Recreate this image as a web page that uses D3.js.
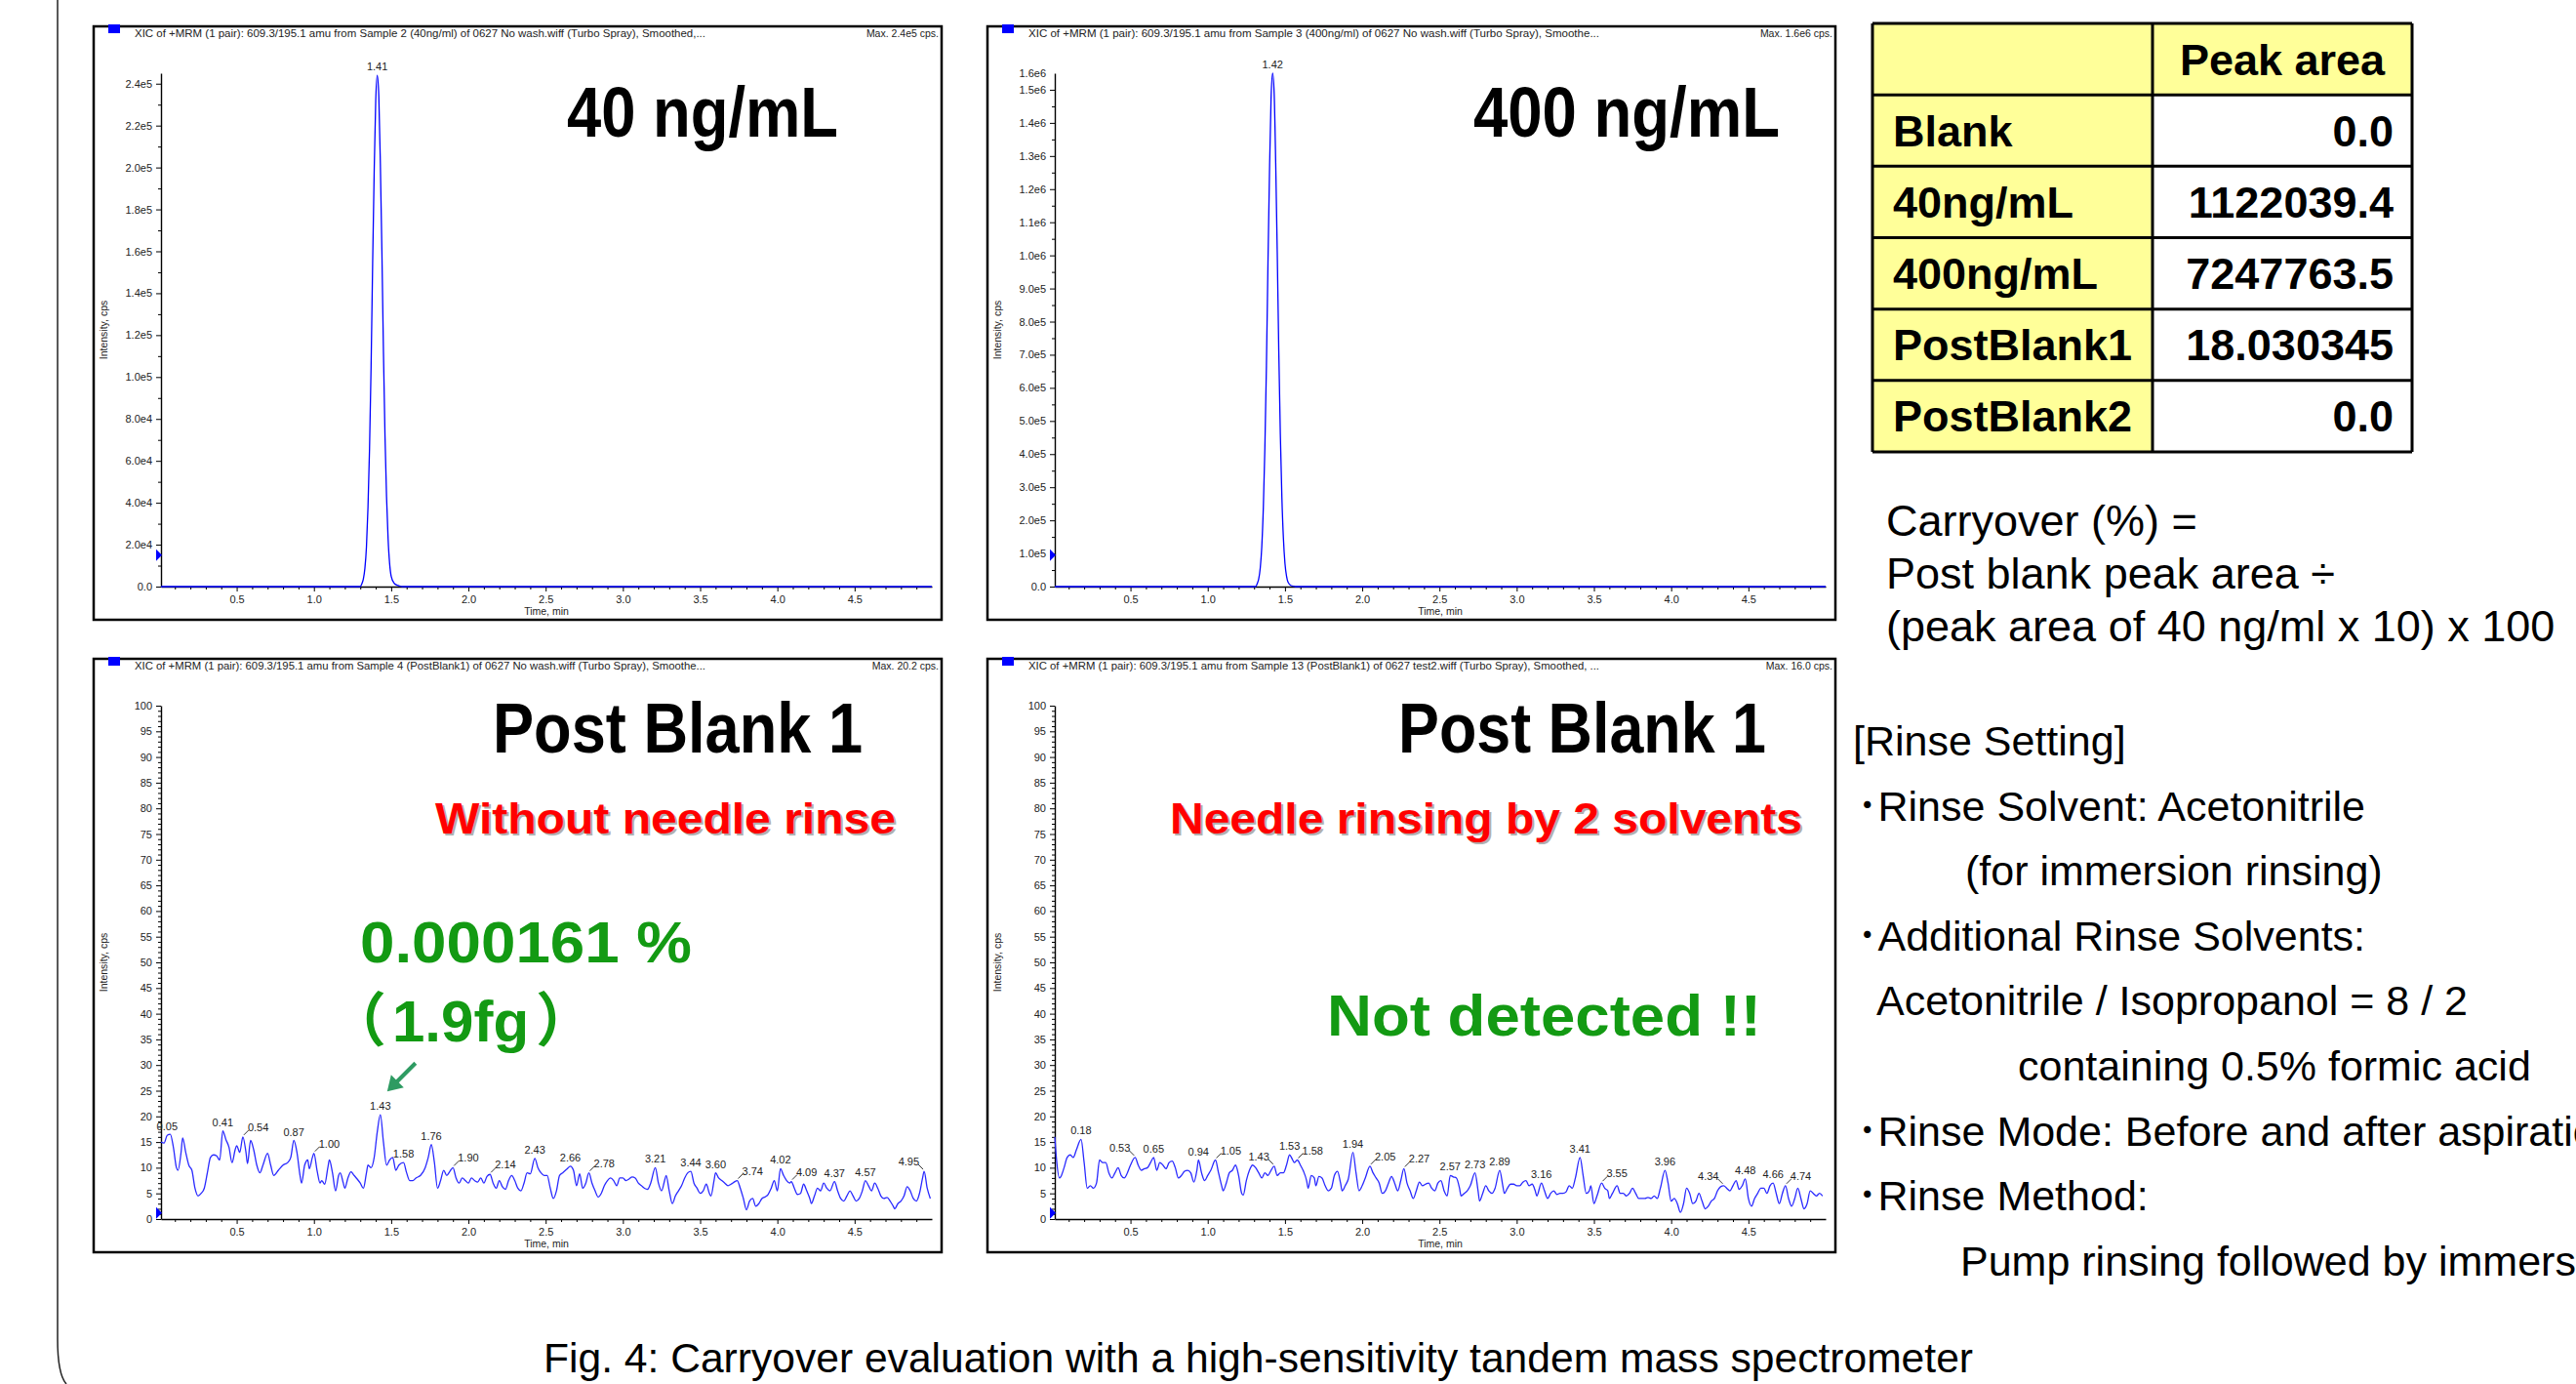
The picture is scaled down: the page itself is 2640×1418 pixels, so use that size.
<!DOCTYPE html>
<html>

<head>
  <meta charset="utf-8">
  <title>Carryover evaluation</title>
  <style>
    body { margin: 0; background: #fff; }
    svg { display: block; font-family: "Liberation Sans", Arial, "Noto Sans CJK JP", sans-serif; }
  </style>
</head>

<body>
  <svg width="2640" height="1418"></svg>
  <script src="https://d3js.org/d3.v7.min.js"></script>
  <script>
    // ---- data ----
    var timeTicks = [0.5, 1.0, 1.5, 2.0, 2.5, 3.0, 3.5, 4.0, 4.5];
    var timeLabels = ["0.5", "1.0", "1.5", "2.0", "2.5", "3.0", "3.5", "4.0", "4.5"];

    var ticks40 = [0, 2e4, 4e4, 6e4, 8e4, 1e5, 1.2e5, 1.4e5, 1.6e5, 1.8e5, 2e5, 2.2e5, 2.4e5];
    var labels40 = ["0.0", "2.0e4", "4.0e4", "6.0e4", "8.0e4", "1.0e5", "1.2e5", "1.4e5", "1.6e5", "1.8e5", "2.0e5", "2.2e5", "2.4e5"];
    var ticks400 = [0, 1e5, 2e5, 3e5, 4e5, 5e5, 6e5, 7e5, 8e5, 9e5, 1e6, 1.1e6, 1.2e6, 1.3e6, 1.4e6, 1.5e6];
    var labels400 = ["0.0", "1.0e5", "2.0e5", "3.0e5", "4.0e5", "5.0e5", "6.0e5", "7.0e5", "8.0e5", "9.0e5", "1.0e6", "1.1e6", "1.2e6", "1.3e6", "1.4e6", "1.5e6"];
    var ticksBlank = [0, 5, 10, 15, 20, 25, 30, 35, 40, 45, 50, 55, 60, 65, 70, 75, 80, 85, 90, 95, 100];
    var labelsBlank = ["0", "5", "10", "15", "20", "25", "30", "35", "40", "45", "50", "55", "60", "65", "70", "75", "80", "85", "90", "95", "100"];

    var headers = [
      "XIC of +MRM (1 pair): 609.3/195.1 amu from Sample 2 (40ng/ml) of 0627 No wash.wiff (Turbo Spray), Smoothed,...",
      "XIC of +MRM (1 pair): 609.3/195.1 amu from Sample 3 (400ng/ml) of 0627 No wash.wiff (Turbo Spray), Smoothe...",
      "XIC of +MRM (1 pair): 609.3/195.1 amu from Sample 4 (PostBlank1) of 0627 No wash.wiff (Turbo Spray), Smoothe...",
      "XIC of +MRM (1 pair): 609.3/195.1 amu from Sample 13 (PostBlank1) of 0627 test2.wiff (Turbo Spray), Smoothed, ..."
    ];
    var maxTexts = ["Max. 2.4e5 cps.", "Max. 1.6e6 cps.", "Max. 20.2 cps.", "Max. 16.0 cps."];

    var peak40Time = [0.01, 1.30, 1.31, 1.32, 1.33, 1.34, 1.35, 1.36, 1.37, 1.38, 1.39, 1.40, 1.41, 1.42, 1.43, 1.44, 1.45, 1.46, 1.47, 1.48, 1.49, 1.50, 1.52, 1.54, 1.56, 1.57, 5.0];
    var peak40Int = [0, 0, 1.3e3, 3.7e3, 8.8e3, 1.9e4, 3.8e4, 6.6e4, 1.05e5, 1.54e5, 1.98e5, 2.32e5, 2.44e5, 2.34e5, 2.02e5, 1.6e5, 1.12e5, 7.2e4, 4.3e4, 2.3e4, 1.1e4, 5e3, 1.5e3, 600, 200, 0, 0];
    var peak400Time = [0.01, 1.31, 1.32, 1.33, 1.34, 1.35, 1.36, 1.37, 1.38, 1.39, 1.40, 1.41, 1.42, 1.43, 1.44, 1.45, 1.46, 1.47, 1.48, 1.49, 1.50, 1.51, 1.52, 1.54, 1.56, 1.57, 5.0];
    var peak400Int = [0, 0, 8.5e3, 2.3e4, 5.6e4, 1.21e5, 2.39e5, 4.19e5, 6.67e5, 9.77e5, 1.256e6, 1.473e6, 1.55e6, 1.49e6, 1.28e6, 1.01e6, 7.1e5, 4.6e5, 2.7e5, 1.45e5, 7.0e4, 3.2e4, 1.3e4, 3e3, 800, 0, 0];

    // post blank 1, without needle rinse  [time, cps]
    var pb1Trace = [[0.01, 15], [0.03, 14.8], [0.05, 16.3], [0.07, 16.5], [0.09, 14], [0.11, 10], [0.12, 9.5], [0.14, 13], [0.15, 15.8], [0.17, 13], [0.19, 10.5], [0.21, 9.5], [0.23, 6], [0.25, 4.5], [0.27, 5], [0.29, 6], [0.31, 9], [0.33, 12], [0.35, 12.5], [0.37, 12.3], [0.39, 11.5], [0.41, 17.2], [0.43, 15.5], [0.45, 14], [0.47, 11], [0.49, 13.5], [0.50, 14.3], [0.52, 13], [0.54, 16], [0.56, 13], [0.57, 10.8], [0.59, 15.3], [0.61, 13.5], [0.63, 10.5], [0.65, 9], [0.67, 10.5], [0.70, 12.8], [0.72, 10.5], [0.74, 8.5], [0.77, 9.5], [0.80, 10.5], [0.83, 11], [0.85, 12], [0.87, 15.3], [0.89, 13], [0.91, 8.5], [0.92, 7], [0.94, 10.5], [0.96, 11.5], [0.97, 9.8], [0.99, 12], [1.00, 12.8], [1.02, 9.5], [1.04, 7], [1.05, 7.5], [1.07, 6.8], [1.09, 10], [1.10, 11.5], [1.12, 9], [1.14, 5.5], [1.16, 8.5], [1.17, 9], [1.19, 7], [1.20, 6], [1.22, 8], [1.24, 9.2], [1.26, 8.5], [1.28, 7.8], [1.30, 7], [1.32, 6], [1.34, 9], [1.35, 10.5], [1.37, 10], [1.39, 12], [1.41, 17], [1.43, 20.3], [1.45, 15], [1.47, 10.5], [1.49, 11.5], [1.51, 12], [1.53, 9.5], [1.55, 10.5], [1.58, 11], [1.60, 9], [1.62, 7.5], [1.64, 7.5], [1.66, 8], [1.69, 8.5], [1.72, 10], [1.74, 12], [1.76, 14.5], [1.78, 11], [1.80, 6], [1.82, 7.5], [1.84, 9.5], [1.86, 8.5], [1.88, 9.3], [1.90, 10], [1.92, 8], [1.94, 7], [1.96, 8], [1.98, 7.5], [2.00, 7], [2.02, 8], [2.04, 7.5], [2.06, 7.2], [2.08, 8], [2.10, 7], [2.12, 8.3], [2.14, 8.7], [2.16, 7], [2.18, 6], [2.20, 7.5], [2.22, 6.3], [2.24, 5.8], [2.26, 7.5], [2.28, 8.5], [2.30, 7.5], [2.32, 6], [2.34, 5.5], [2.36, 7], [2.38, 9], [2.40, 8.8], [2.43, 11.8], [2.45, 10], [2.47, 9], [2.49, 8.5], [2.51, 8.5], [2.53, 6], [2.55, 4], [2.57, 5.5], [2.59, 8.5], [2.61, 9], [2.64, 9.8], [2.66, 10.3], [2.68, 9.5], [2.70, 6.5], [2.72, 8.8], [2.74, 6], [2.76, 7], [2.78, 9], [2.80, 7], [2.82, 5.5], [2.84, 4.3], [2.86, 5], [2.88, 6.5], [2.90, 7.5], [2.92, 8], [2.94, 7.5], [2.96, 6.5], [2.98, 8], [3.00, 8], [3.02, 7.5], [3.04, 7.8], [3.06, 8.2], [3.08, 8], [3.10, 7], [3.12, 6.5], [3.14, 6], [3.16, 5.8], [3.18, 7], [3.21, 10], [3.23, 7], [3.25, 5.5], [3.27, 7.5], [3.28, 8.5], [3.30, 5.5], [3.32, 3], [3.34, 4.5], [3.36, 5.5], [3.38, 6.5], [3.40, 8], [3.42, 9], [3.44, 9.3], [3.46, 7], [3.48, 6], [3.50, 5], [3.52, 5.5], [3.54, 6.8], [3.56, 5], [3.57, 4.5], [3.59, 7.5], [3.60, 9], [3.62, 8], [3.64, 7.5], [3.66, 7], [3.68, 6.5], [3.70, 6.8], [3.72, 7.2], [3.74, 7.5], [3.76, 6], [3.78, 4], [3.80, 1.8], [3.82, 3.5], [3.84, 4], [3.86, 2.5], [3.88, 3], [3.90, 4], [3.92, 4.3], [3.94, 4.8], [3.96, 6], [3.98, 7.5], [4.00, 5.5], [4.02, 9.8], [4.04, 8.5], [4.06, 7.5], [4.08, 7], [4.09, 7.3], [4.11, 6], [4.13, 4.8], [4.15, 5], [4.17, 6.8], [4.19, 5.5], [4.21, 4], [4.22, 3], [4.24, 4.5], [4.26, 6], [4.28, 5.5], [4.30, 7], [4.32, 6], [4.34, 5.5], [4.37, 7.3], [4.39, 5.5], [4.41, 4], [4.43, 3.5], [4.45, 4.5], [4.47, 5.5], [4.49, 4.5], [4.51, 3.5], [4.53, 4], [4.55, 5.5], [4.57, 7.5], [4.59, 6.5], [4.61, 5.5], [4.63, 7], [4.65, 6], [4.67, 4.5], [4.69, 4], [4.71, 4.2], [4.73, 3.5], [4.75, 2.5], [4.76, 2], [4.78, 3], [4.80, 3.5], [4.82, 4.5], [4.84, 6.3], [4.86, 5.5], [4.88, 4], [4.90, 3.5], [4.92, 5], [4.94, 8], [4.95, 9.3], [4.97, 6], [4.99, 4]];
    var pb1LabelT = [0.05, 0.41, 0.54, 0.87, 1.00, 1.43, 1.58, 1.76, 1.90, 2.14, 2.43, 2.66, 2.78, 3.21, 3.44, 3.60, 3.74, 4.02, 4.09, 4.37, 4.57, 4.95];
    var pb1LabelMode = "nnLnLnnnLLnnLnnnLnLnnR";

    // post blank 1, needle rinsing by 2 solvents  [time, cps]
    var pb2Trace = [[0.01, 16], [0.02, 12], [0.04, 8], [0.05, 8.3], [0.07, 10], [0.09, 12], [0.11, 12.5], [0.13, 12], [0.15, 13.5], [0.18, 15.5], [0.20, 11], [0.22, 6], [0.24, 6.5], [0.26, 6], [0.28, 7], [0.30, 11.5], [0.32, 11], [0.34, 11], [0.36, 9], [0.38, 8], [0.40, 9], [0.42, 10], [0.44, 8.5], [0.46, 8], [0.48, 9], [0.50, 10.5], [0.53, 12], [0.55, 10.5], [0.57, 9.5], [0.59, 9.8], [0.61, 10], [0.63, 11], [0.65, 12], [0.67, 9.5], [0.69, 11], [0.71, 10.5], [0.73, 9.8], [0.75, 11], [0.77, 11.3], [0.79, 10], [0.81, 8], [0.83, 8.5], [0.85, 9.3], [0.87, 9.5], [0.89, 9], [0.91, 7.2], [0.93, 9.5], [0.94, 11.5], [0.96, 9], [0.98, 7.5], [1.00, 8.5], [1.02, 9.5], [1.05, 11.5], [1.07, 9], [1.09, 6.5], [1.10, 5.5], [1.12, 7], [1.14, 9], [1.16, 9.5], [1.18, 10.5], [1.20, 8.5], [1.22, 5], [1.23, 4.7], [1.25, 7.5], [1.27, 9.5], [1.29, 10.5], [1.31, 10], [1.33, 9], [1.35, 8], [1.37, 9], [1.39, 8.5], [1.41, 9.5], [1.43, 10.3], [1.45, 8.5], [1.47, 9], [1.49, 9], [1.51, 10.5], [1.53, 12.5], [1.55, 11.5], [1.56, 11], [1.58, 11.5], [1.60, 10.5], [1.62, 9.3], [1.64, 7.5], [1.65, 6], [1.67, 8.5], [1.69, 8], [1.70, 6.5], [1.72, 8.3], [1.74, 8], [1.76, 6.5], [1.78, 5.5], [1.80, 6], [1.82, 8.5], [1.84, 9.3], [1.86, 7], [1.87, 5.5], [1.89, 6.5], [1.91, 7.8], [1.94, 13], [1.96, 9], [1.98, 5.5], [2.00, 6.5], [2.02, 8], [2.05, 10.3], [2.07, 9], [2.09, 8], [2.11, 7], [2.13, 5], [2.15, 5.5], [2.17, 7], [2.19, 8.3], [2.21, 7], [2.23, 5.5], [2.25, 7.5], [2.27, 9.8], [2.29, 7], [2.31, 5.5], [2.33, 4], [2.35, 5.5], [2.37, 7.2], [2.39, 6.5], [2.41, 6.8], [2.43, 7], [2.45, 6], [2.47, 5.5], [2.49, 7], [2.51, 7.5], [2.53, 5.5], [2.55, 4.5], [2.57, 8.5], [2.59, 8.2], [2.61, 8], [2.63, 6], [2.64, 4.5], [2.66, 5], [2.68, 5.5], [2.70, 6.5], [2.73, 9], [2.75, 5.5], [2.76, 3.5], [2.78, 5], [2.80, 6.5], [2.82, 5.5], [2.84, 5], [2.86, 6], [2.89, 9.5], [2.91, 6.5], [2.92, 5], [2.94, 6], [2.96, 6.8], [2.98, 6.8], [3.00, 6.5], [3.02, 6.5], [3.04, 7.2], [3.06, 7.5], [3.08, 6.5], [3.10, 6.8], [3.12, 5.5], [3.13, 4.5], [3.16, 7], [3.18, 5.5], [3.20, 4], [3.22, 5], [3.24, 5.5], [3.26, 4.8], [3.28, 5], [3.30, 5], [3.32, 5.3], [3.34, 6.5], [3.36, 6], [3.38, 8], [3.41, 12], [3.43, 8.5], [3.45, 5], [3.47, 5.5], [3.48, 6.5], [3.50, 3], [3.52, 4.5], [3.55, 7], [3.57, 6], [3.59, 5.5], [3.60, 4], [3.62, 5], [3.65, 6.5], [3.67, 5], [3.69, 5], [3.71, 4.5], [3.73, 5], [3.75, 6], [3.77, 5], [3.79, 4], [3.81, 4], [3.83, 4], [3.85, 4.2], [3.87, 4], [3.89, 4.5], [3.91, 4], [3.93, 6], [3.96, 9.5], [3.98, 7], [4.00, 3.5], [4.02, 4], [4.04, 3], [4.06, 1.3], [4.08, 3], [4.10, 6], [4.12, 5], [4.14, 3], [4.16, 3.5], [4.18, 5], [4.20, 3.5], [4.22, 2], [4.24, 2.5], [4.26, 3.5], [4.28, 4], [4.30, 5.5], [4.32, 6.3], [4.34, 6.5], [4.36, 6], [4.38, 5.5], [4.40, 6.5], [4.42, 7.5], [4.44, 5.8], [4.46, 6.5], [4.48, 7.8], [4.50, 4], [4.52, 2.5], [4.54, 4], [4.56, 5], [4.58, 6], [4.60, 6], [4.62, 5], [4.64, 6.5], [4.66, 7], [4.68, 5], [4.70, 3], [4.72, 5], [4.74, 6.5], [4.76, 4], [4.78, 2.5], [4.80, 4], [4.82, 6], [4.84, 4], [4.86, 2], [4.88, 3], [4.90, 5.5], [4.92, 5], [4.94, 4.5], [4.96, 5], [4.98, 4.5]];
    var pb2LabelT = [0.18, 0.53, 0.65, 0.94, 1.05, 1.43, 1.53, 1.58, 1.94, 2.05, 2.27, 2.57, 2.73, 2.89, 3.16, 3.41, 3.55, 3.96, 4.34, 4.48, 4.66, 4.74];
    var pb2LabelMode = "nRnnLRnLnLLnnnnnLnRnnL";

    var tableHeader = "Peak area";
    var tableRows = ["Blank", "40ng/mL", "400ng/mL", "PostBlank1", "PostBlank2"];
    var peakAreas = ["0.0", "1122039.4", "7247763.5", "18.030345", "0.0"];

    var carryLines = ["Carryover (%) =", "Post blank peak area \u00F7", "(peak area of 40 ng/ml x 10) x 100"];
    var rinseLines = ["[Rinse Setting]", "\uFF65Rinse Solvent: Acetonitrile", "(for immersion rinsing)", "\uFF65Additional Rinse Solvents:",
      "Acetonitrile / Isopropanol = 8 / 2", "containing 0.5% formic acid", "\uFF65Rinse Mode: Before and after aspiration",
      "\uFF65Rinse Method:", "Pump rinsing followed by immersion"];
    var caption = "Fig. 4: Carryover evaluation with a high-sensitivity tandem mass spectrometer";

    // ---- drawing ----
    var svg = d3.select("svg");
    var RED = "#ff0000", GREEN = "#139a13", BLUE = "#0000ff";

    // left frame edge
    svg.append("path")
      .attr("d", "M59,0 V1372 Q59,1408 68,1418")
      .attr("fill", "none").attr("stroke", "#222").attr("stroke-width", 1.5);

    var panels = [
      { x: 96, y: 27, header: headers[0], max: maxTexts[0], time: peak40Time, val: peak40Int, yMax: 2.45e5, ticks: ticks40, labels: labels40, minor: 1e4, thr: 1.5e4, peakT: [1.41], mode: "n",
        notes: [{ t: "40 ng/mL", x: 485, y: 113, w: 278, s: 72, c: "#000" }] },
      { x: 1012, y: 27, header: headers[1], max: maxTexts[1], time: peak400Time, val: peak400Int, yMax: 1.55e6, ticks: ticks400, labels: labels400, minor: 5e4, thr: 9.5e4, top: "1.6e6", peakT: [1.42], mode: "n",
        notes: [{ t: "400 ng/mL", x: 498, y: 113, w: 314, s: 72, c: "#000" }] },
      { x: 96, y: 675, header: headers[2], max: maxTexts[2], trace: pb1Trace, yMax: 100, ticks: ticksBlank, labels: labelsBlank, minor: 1, thr: 1.2, peakT: pb1LabelT, mode: pb1LabelMode, arrow: 1.43,
        notes: [{ t: "Post Blank 1", x: 409, y: 96, w: 379, s: 72, c: "#000" },
          { t: "Without needle rinse", x: 350, y: 179, w: 472, s: 44, c: RED, sh: true },
          { t: "0.000161 %", x: 273, y: 311, w: 340, s: 60, c: GREEN }],
        paren: { x: 240, y: 392, s: 60, c: GREEN, parts: ["\uFF08", "1.9fg", "\uFF09"] } },
      { x: 1012, y: 675, header: headers[3], max: maxTexts[3], trace: pb2Trace, yMax: 100, ticks: ticksBlank, labels: labelsBlank, minor: 1, thr: 1.2, peakT: pb2LabelT, mode: pb2LabelMode,
        notes: [{ t: "Post Blank 1", x: 421, y: 96, w: 377, s: 72, c: "#000" },
          { t: "Needle rinsing by 2 solvents", x: 187, y: 179, w: 648, s: 44, c: RED, sh: true },
          { t: "Not detected !!", x: 348, y: 386, w: 445, s: 60, c: GREEN }] }
    ];

    var PW = 869, PH = 608;

    panels.forEach(function (p) {
      var g = svg.append("g").attr("transform", "translate(" + p.x + "," + p.y + ")");
      g.append("rect").attr("width", PW).attr("height", PH)
        .attr("fill", "#fff").attr("stroke", "#000").attr("stroke-width", 2.5);

      var x = d3.scaleLinear().domain([0.01, 5.0]).range([69, 859]);
      var y = d3.scaleLinear().domain([0, p.yMax]).range([574, 48]);

      // header
      g.append("rect").attr("x", 15).attr("y", -2).attr("width", 12).attr("height", 9).attr("fill", BLUE);
      g.append("text").attr("x", 42).attr("y", 11).attr("font-size", 10.5).attr("fill", "#222")
        .attr("textLength", 585).attr("lengthAdjust", "spacingAndGlyphs").text(p.header);
      g.append("text").attr("x", 866).attr("y", 11).attr("font-size", 10.5).attr("fill", "#222")
        .attr("text-anchor", "end").text(p.max);

      // axes
      g.append("g").attr("transform", "translate(0,574)")
        .call(d3.axisBottom(x).tickValues(timeTicks).tickFormat(function (d, i) { return timeLabels[i]; })
          .tickSize(5).tickSizeOuter(0).tickPadding(4));
      var xMinor = d3.range(0.1, 5.0, 0.1).filter(function (t) { return Math.abs(t * 2 - Math.round(t * 2)) > 0.01; });
      g.append("g").attr("transform", "translate(0,574)")
        .call(d3.axisBottom(x).tickValues(xMinor).tickFormat("").tickSize(3).tickSizeOuter(0))
        .select(".domain").remove();

      g.append("g").attr("transform", "translate(69,0)")
        .call(d3.axisLeft(y).tickValues(p.ticks).tickFormat(function (d, i) { return p.labels[i]; })
          .tickSize(5).tickSizeOuter(0).tickPadding(4));
      var yMinor = d3.range(p.minor, p.yMax, p.minor).filter(function (v) { return p.ticks.indexOf(+v.toPrecision(6)) < 0; });
      g.append("g").attr("transform", "translate(69,0)")
        .call(d3.axisLeft(y).tickValues(yMinor).tickFormat("").tickSize(3).tickSizeOuter(0))
        .select(".domain").remove();

      g.selectAll(".tick text").attr("font-size", 11).attr("font-family", "Liberation Sans, Arial, sans-serif").attr("fill", "#222");
      g.selectAll(".domain").attr("stroke-width", 1.4);

      if (p.top) {
        g.append("text").attr("x", 69 - 9).attr("y", y(p.yMax)).attr("dy", "0.32em")
          .attr("text-anchor", "end").attr("font-size", 11).attr("fill", "#222").text(p.top);
      }

      g.append("text").attr("x", 464).attr("y", 603).attr("text-anchor", "middle")
        .attr("font-size", 10.5).attr("fill", "#222").text("Time, min");
      g.append("text").attr("transform", "translate(14," + ((574 + 48) / 2) + ") rotate(-90)")
        .attr("text-anchor", "middle").attr("font-size", 10.5).attr("fill", "#222").text("Intensity, cps");

      // threshold marker
      var ty = y(p.thr);
      g.append("path").attr("d", "M64," + (ty - 6) + " L70," + ty + " L64," + (ty + 6) + " Z").attr("fill", BLUE);

      // trace
      var pts = p.trace ? p.trace : p.time.map(function (t, i) { return [t, p.val[i]]; });
      var line = d3.line().x(function (d) { return x(d[0]); }).y(function (d) { return y(d[1]); })
        .curve(d3.curveMonotoneX);
      g.append("path").attr("d", line(pts)).attr("fill", "none")
        .attr("stroke", p.trace ? "#2a2aff" : BLUE).attr("stroke-width", 1.3);

      function nearest(t) {
        return pts.reduce(function (a, b) { return Math.abs(b[0] - t) < Math.abs(a[0] - t) ? b : a; });
      }

      // peak labels
      p.peakT.forEach(function (t, i) {
        var px = x(t), py = y(nearest(t)[1]);
        var m = p.mode[i];
        var lab = g.append("text").attr("font-size", 11).attr("fill", "#222").text(t.toFixed(2));
        if (m === "n") {
          lab.attr("x", px).attr("y", py - 5).attr("text-anchor", "middle");
        } else if (m === "L") {
          g.append("line").attr("x1", px + 1).attr("y1", py - 2).attr("x2", px + 6).attr("y2", py - 7)
            .attr("stroke", "#333").attr("stroke-width", 1);
          lab.attr("x", px + 5).attr("y", py - 6).attr("text-anchor", "start");
        } else {
          g.append("line").attr("x1", px - 1).attr("y1", py - 2).attr("x2", px - 6).attr("y2", py - 7)
            .attr("stroke", "#333").attr("stroke-width", 1);
          lab.attr("x", px - 5).attr("y", py - 6).attr("text-anchor", "end");
        }
      });

      // arrow toward the 1.43 peak
      if (p.arrow) {
        var tx = x(p.arrow) + 7, tyy = y(nearest(p.arrow)[1]) - 24;
        g.append("line").attr("x1", tx + 29).attr("y1", tyy - 29).attr("x2", tx + 8).attr("y2", tyy - 8)
          .attr("stroke", "#2e9b62").attr("stroke-width", 4);
        g.append("path").attr("d", "M" + tx + "," + tyy + " l4,-17 l13,13 Z").attr("fill", "#2e9b62");
      }

      // annotations
      p.notes.forEach(function (n) {
        if (n.sh) {
          g.append("text").attr("x", n.x + 2).attr("y", n.y + 2).attr("font-size", n.s).attr("font-weight", "bold")
            .attr("fill", "#b0b0b0").attr("textLength", n.w).attr("lengthAdjust", "spacingAndGlyphs").text(n.t);
        }
        g.append("text").attr("x", n.x).attr("y", n.y).attr("font-size", n.s).attr("font-weight", "bold")
          .attr("fill", n.c).attr("textLength", n.w).attr("lengthAdjust", "spacingAndGlyphs").text(n.t);
      });

      if (p.paren) {
        var pt = g.append("text").attr("x", p.paren.x).attr("y", p.paren.y).attr("font-size", p.paren.s)
          .attr("font-weight", "bold").attr("fill", p.paren.c);
        pt.append("tspan").text(p.paren.parts[0]);
        pt.append("tspan").attr("dx", 6).text(p.paren.parts[1]);
        pt.append("tspan").attr("dx", 7).text(p.paren.parts[2]);
      }
    });

    // ---- peak area table ----
    var tx0 = 1919, tx1 = 2206, tx2 = 2472;
    var rowY = d3.scaleBand().domain(d3.range(tableRows.length + 1)).range([24, 463]);
    var cells = [[null, tableHeader]].concat(tableRows.map(function (r, i) { return [r, peakAreas[i]]; }));
    var tg = svg.append("g");
    cells.forEach(function (c, i) {
      var yy = rowY(i), h = rowY.bandwidth();
      tg.append("rect").attr("x", tx0).attr("y", yy).attr("width", tx1 - tx0).attr("height", h).attr("fill", "#ffff99");
      tg.append("rect").attr("x", tx1).attr("y", yy).attr("width", tx2 - tx1).attr("height", h).attr("fill", i === 0 ? "#ffff99" : "#fff");
      if (c[0]) {
        tg.append("text").attr("x", 1940).attr("y", yy + h / 2 + 16).attr("font-size", 45).attr("font-weight", "bold").text(c[0]);
      }
      tg.append("text").attr("x", i === 0 ? (tx1 + tx2) / 2 : 2453).attr("y", yy + h / 2 + 16)
        .attr("text-anchor", i === 0 ? "middle" : "end").attr("font-size", 45).attr("font-weight", "bold").text(c[1]);
    });
    d3.range(tableRows.length + 2).forEach(function (i) {
      var yy = i <= tableRows.length ? rowY(i) : 463;
      tg.append("line").attr("x1", tx0).attr("x2", tx2).attr("y1", yy).attr("y2", yy).attr("stroke", "#000").attr("stroke-width", 3);
    });
    [tx0, tx1, tx2].forEach(function (xx) {
      tg.append("line").attr("x1", xx).attr("x2", xx).attr("y1", 24).attr("y2", 463).attr("stroke", "#000").attr("stroke-width", 3);
    });

    // ---- formula ----
    svg.append("g").selectAll("text").data(carryLines).join("text")
      .attr("x", 1933).attr("y", function (d, i) { return 549 + i * 54; })
      .attr("font-size", 45).attr("fill", "#000").text(function (d) { return d; });

    // ---- rinse settings ----
    var rinseIndent = [1899, 1903, 2014, 1903, 1923, 2068, 1903, 1903, 2009];
    svg.append("g").selectAll("text").data(rinseLines).join("text")
      .attr("x", function (d, i) { return rinseIndent[i]; })
      .attr("y", function (d, i) { return 774 + i * 66.6; })
      .attr("font-size", 43).attr("fill", "#000").text(function (d) { return d; });

    // ---- caption ----
    svg.append("text").attr("x", 557).attr("y", 1406).attr("font-size", 42).attr("fill", "#000")
      .attr("textLength", 1465).attr("lengthAdjust", "spacingAndGlyphs").text(caption);
  </script>
</body>

</html>
